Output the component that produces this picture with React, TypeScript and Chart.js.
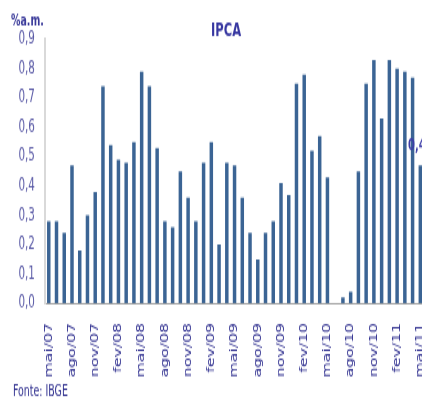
import { useEffect, useRef } from 'react';
import { Chart, registerables } from 'chart.js';

Chart.register(...registerables);

const categories = [
  'mai/07', 'jun/07', 'jul/07', 'ago/07', 'set/07', 'out/07', 'nov/07', 'dez/07',
  'jan/08', 'fev/08', 'mar/08', 'abr/08', 'mai/08', 'jun/08', 'jul/08', 'ago/08', 'set/08', 'out/08', 'nov/08', 'dez/08',
  'jan/09', 'fev/09', 'mar/09', 'abr/09', 'mai/09', 'jun/09', 'jul/09', 'ago/09', 'set/09', 'out/09', 'nov/09', 'dez/09',
  'jan/10', 'fev/10', 'mar/10', 'abr/10', 'mai/10', 'jun/10', 'jul/10', 'ago/10', 'set/10', 'out/10', 'nov/10', 'dez/10',
  'jan/11', 'fev/11', 'mar/11', 'abr/11', 'mai/11',
];

const ipcaValues = [
  0.28, 0.28, 0.24, 0.47, 0.18, 0.30, 0.38, 0.74,
  0.54, 0.49, 0.48, 0.55, 0.79, 0.74, 0.53, 0.28, 0.26, 0.45, 0.36, 0.28,
  0.48, 0.55, 0.20, 0.48, 0.47, 0.36, 0.24, 0.15, 0.24, 0.28, 0.41, 0.37,
  0.75, 0.78, 0.52, 0.57, 0.43, 0.00, 0.02, 0.04, 0.45, 0.75, 0.83, 0.63,
  0.83, 0.80, 0.79, 0.77, 0.47,
];

const yTickLabels = ['0,0', '0,1', '0,2', '0,3', '0,4', '0,5', '0,6', '0,7', '0,8', '0,9'];

const titleText = 'IPCA';
const unitText = '%a.m.';
const sourceText = 'Fonte: IBGE';

const NARROW = "'Liberation Sans Narrow', 'DejaVu Sans Condensed', 'Arial Narrow', sans-serif";

export default function App() {
  const ref = useRef<HTMLCanvasElement>(null);

  useEffect(() => {
    if (!ref.current) return;

    const textPlugin = {
      id: 'freeTexts',
      afterDatasetsDraw(chart: any) {
        const ctx = chart.ctx;
        const meta = chart.getDatasetMeta(0);
        const last = ipcaValues.length - 1;
        const el = meta.data[last];
        if (!el) return;
        ctx.save();
        ctx.font = `bold 11px ${NARROW}`;
        ctx.fillStyle = '#3d3da8';
        ctx.textAlign = 'center';
        ctx.textBaseline = 'alphabetic';
        ctx.fillText(ipcaValues[last].toFixed(2).replace('.', ','), el.x, el.y - 10);
        ctx.restore();
      },
      afterDraw(chart: any) {
        const ctx = chart.ctx;
        ctx.save();
        ctx.textBaseline = 'alphabetic';
        ctx.fillStyle = '#3636a0';
        ctx.textAlign = 'center';
        ctx.font = `bold 12.8px ${NARROW}`;
        ctx.fillText(titleText, 226, 24);
        ctx.textAlign = 'left';
        ctx.font = `bold 10.5px ${NARROW}`;
        ctx.fillStyle = '#3a3a9a';
        ctx.fillText(unitText, 11, 16.7);
        ctx.font = `10.5px ${NARROW}`;
        ctx.fillStyle = '#30308f';
        ctx.fillText(sourceText, 13, 263.8);
        ctx.restore();
      },
    };

    const chart = new Chart(ref.current, {
      type: 'bar',
      data: {
        labels: categories,
        datasets: [
          {
            label: 'IPCA',
            data: ipcaValues,
            backgroundColor: '#3b6494',
            borderWidth: 0,
            barPercentage: 0.45,
            categoryPercentage: 1.0,
          },
        ],
      },
      options: {
        responsive: false,
        animation: false,
        events: [],
        layout: { padding: { left: 0, top: 26.33, right: 27.8, bottom: 0 } },
        plugins: {
          legend: { display: false },
          tooltip: { enabled: false },
          title: { display: false },
        },
        scales: {
          x: {
            type: 'category',
            offset: true,
            grid: { display: false, drawTicks: false },
            border: { display: true, color: '#a0a0a0', width: 1 },
            ticks: {
              autoSkip: false,
              minRotation: 90,
              maxRotation: 90,
              padding: 13,
              color: '#2f2f8f',
              font: { family: "'DejaVu Sans', sans-serif", size: 10.5 },
              callback: (_v: any, i: number) => (i % 3 === 0 ? categories[i] : ''),
            },
            afterFit: (s: any) => {
              s.height = 65.8;
            },
          },
          y: {
            type: 'linear',
            min: 0,
            max: 0.9,
            grid: { display: false, drawTicks: false },
            border: { display: true, color: '#d9d9d9', width: 2 },
            ticks: {
              stepSize: 0.1,
              padding: 10,
              color: '#5a5aa6',
              font: { family: NARROW, size: 11.5 },
              callback: (_v: any, i: number) => yTickLabels[i] ?? '',
            },
            afterFit: (s: any) => {
              s.width = 44.9;
            },
          },
        },
      },
      plugins: [textPlugin],
    });

    return () => chart.destroy();
  }, []);

  return (
    <div
      style={{
        position: 'absolute',
        left: 0,
        top: 0,
        width: 422,
        height: 401,
        overflow: 'hidden',
        background: '#ffffff',
      }}
    >
      <canvas
        ref={ref}
        width={452}
        height={268}
        style={{ width: '452px', height: '402px', display: 'block' }}
      />
    </div>
  );
}
